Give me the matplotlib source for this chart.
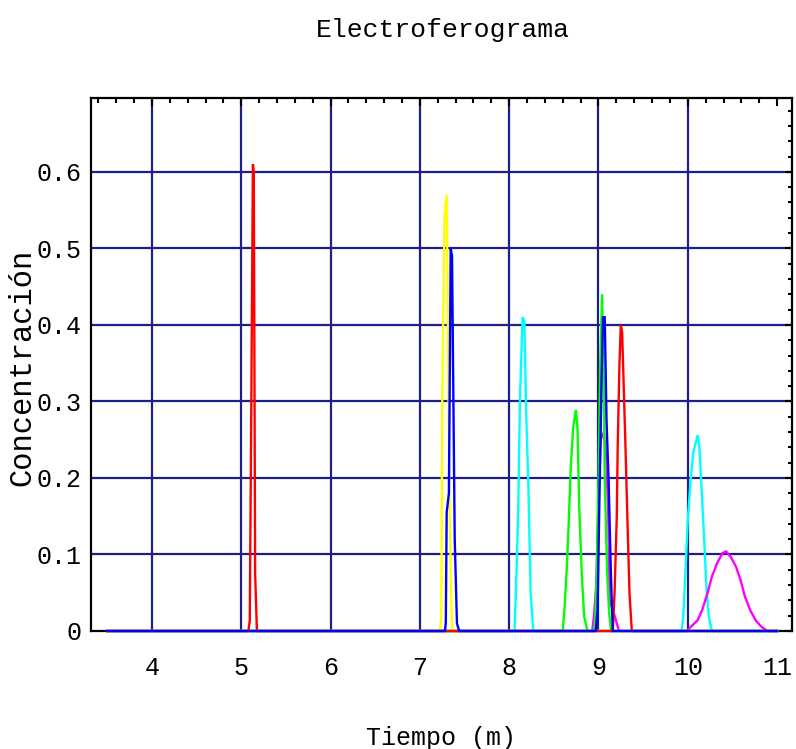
import matplotlib
matplotlib.use("Agg")
import matplotlib.pyplot as plt
from matplotlib.ticker import MultipleLocator

# Electropherogram traces: migration time (min) vs. concentration
rojo_t = [3.5, 5.08, 5.095, 5.11, 5.13, 5.14, 5.155, 5.175,
          9.16, 9.18, 9.205, 9.215, 9.235, 9.25, 9.265, 9.275, 9.30, 9.33, 9.347, 9.373, 11.0]
rojo_c = [0, 0, 0.014, 0.26, 0.61, 0.60, 0.075, 0,
          0, 0.05, 0.15, 0.24, 0.35, 0.40, 0.39, 0.35, 0.25, 0.12, 0.05, 0, 0]

amarillo_t = [3.5, 7.225, 7.24, 7.25, 7.275, 7.30, 7.31, 7.33, 7.355, 7.37, 11.0]
amarillo_c = [0, 0, 0.02, 0.30, 0.54, 0.57, 0.45, 0.18, 0.02, 0, 0]

azul_t = [3.5, 7.28, 7.29, 7.30, 7.325, 7.345, 7.36, 7.37, 7.39, 7.415, 7.44,
          8.97, 8.99, 9.01, 9.035, 9.05, 9.07, 9.09, 9.115, 9.14, 9.16, 11.0]
azul_c = [0, 0, 0.01, 0.155, 0.18, 0.50, 0.49, 0.365, 0.12, 0.01, 0,
          0, 0.03, 0.17, 0.33, 0.41, 0.41, 0.275, 0.19, 0.07, 0, 0]

cian_t = [3.5, 8.06, 8.08, 8.10, 8.12, 8.15, 8.17, 8.19, 8.215, 8.24, 8.27,
          9.93, 9.95, 9.98, 10.0, 10.03, 10.06, 10.11, 10.13, 10.16, 10.19, 10.21, 10.235, 10.27, 11.0]
cian_c = [0, 0, 0.07, 0.15, 0.30, 0.41, 0.405, 0.285, 0.19, 0.05, 0,
          0, 0.019, 0.093, 0.145, 0.195, 0.232, 0.256, 0.24, 0.174, 0.104, 0.054, 0.019, 0, 0]

verde_t = [3.5, 8.60, 8.62, 8.646, 8.665, 8.69, 8.717, 8.747, 8.765, 8.784, 8.814, 8.84, 8.877,
           8.95, 8.965, 8.98, 9.00, 9.02, 9.04, 9.056, 9.07, 9.097, 9.12, 9.14, 11.0]
verde_c = [0, 0, 0.03, 0.084, 0.136, 0.215, 0.267, 0.289, 0.265, 0.163, 0.071, 0.019, 0,
           0, 0.02, 0.076, 0.197, 0.35, 0.44, 0.345, 0.197, 0.076, 0.023, 0, 0]

magenta_t = [3.5, 8.93, 8.95, 8.975, 9.0, 9.025, 9.06, 9.09, 9.11, 9.125, 9.18, 9.23,
             9.985, 10.11, 10.16, 10.22, 10.27, 10.33, 10.39, 10.43, 10.48, 10.54, 10.59,
             10.64, 10.70, 10.76, 10.82, 10.89, 11.0]
magenta_c = [0, 0, 0.02, 0.06, 0.17, 0.25, 0.26, 0.22, 0.15, 0.04, 0.02, 0,
             0, 0.014, 0.027, 0.049, 0.071, 0.089, 0.102, 0.104, 0.097, 0.084, 0.067,
             0.045, 0.027, 0.014, 0.006, 0, 0]

x_ticks = [4, 5, 6, 7, 8, 9, 10, 11]
x_labels = ["4", "5", "6", "7", "8", "9", "10", "11"]
y_ticks = [0, 0.1, 0.2, 0.3, 0.4, 0.5, 0.6]
y_labels = ["0", "0.1", "0.2", "0.3", "0.4", "0.5", "0.6"]

FONT = "Liberation Mono"
GRID = "#1e1e88"

fig = plt.figure(figsize=(7.96, 7.49), dpi=100)
fig.patch.set_facecolor("white")
ax = fig.add_axes([91 / 796, 118 / 749, 701 / 796, 533 / 749])

ax.set_xlim(3.317, 11.167)
ax.set_ylim(0, 0.6965)

# grid lines (no vertical line at the last tick)
for xv in x_ticks[:-1]:
    ax.axvline(xv, color=GRID, lw=1.6, zorder=1)
for yv in y_ticks[1:]:
    ax.axhline(yv, color=GRID, lw=1.6, zorder=1)

series = [
    (amarillo_t, amarillo_c, "#ffff00"),
    (cian_t, cian_c, "#00ffff"),
    (magenta_t, magenta_c, "#ff00ff"),
    (verde_t, verde_c, "#00ff00"),
    (rojo_t, rojo_c, "#ff0000"),
    (azul_t, azul_c, "#0000ff"),
]
for t, c, col in series:
    ax.plot(t, c, color=col, lw=1.7, zorder=3, clip_on=False,
            solid_joinstyle="miter")

ax.set_xticks(x_ticks)
ax.set_xticklabels(x_labels)
ax.set_yticks(y_ticks)
ax.set_yticklabels(y_labels)
ax.xaxis.set_minor_locator(MultipleLocator(0.2))
ax.yaxis.set_minor_locator(MultipleLocator(0.02))

ax.tick_params(axis="x", which="both", direction="in", bottom=False, top=True,
               labelbottom=True, colors="black")
ax.tick_params(axis="y", which="both", direction="in", left=False, right=True,
               labelleft=True, colors="black")
ax.tick_params(axis="x", which="major", length=6, width=1.5, pad=18)
ax.tick_params(axis="x", which="minor", length=3.5, width=1.5)
ax.tick_params(axis="y", which="major", length=5, width=1.5, pad=7)
ax.tick_params(axis="y", which="minor", length=3, width=1.5)

for lab in ax.get_xticklabels() + ax.get_yticklabels():
    lab.set_fontfamily(FONT)
    lab.set_fontsize(18)

for sp in ax.spines.values():
    sp.set_linewidth(1.6)
    sp.set_color("black")

fig.text(443 / 796, 1 - 30 / 749, "Electroferograma", ha="center", va="center",
         fontsize=19, family=FONT)
fig.text(441 / 796, 1 - 738 / 749, "Tiempo (m)", ha="center", va="center",
         fontsize=18, family=FONT)
fig.text(22 / 796, 1 - 367 / 749, "Concentración", ha="center", va="center",
         rotation=90, fontsize=22, family=FONT)

fig.savefig("out.png", dpi=100, facecolor="white")
